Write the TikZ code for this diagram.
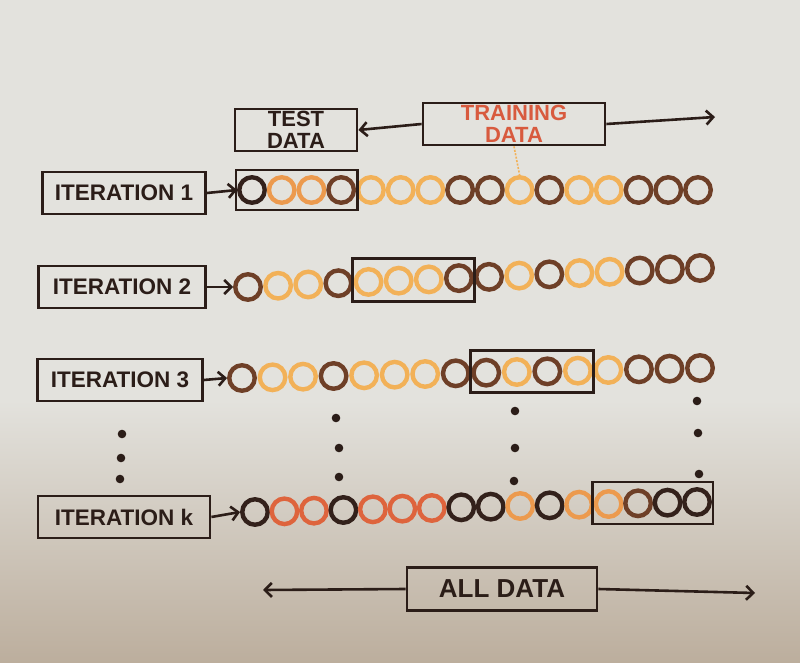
\documentclass[tikz,border=0pt]{standalone}
\usepackage{fontspec}
\setmainfont{Liberation Sans}
\usetikzlibrary{positioning,fit,calc,arrows.meta}

\definecolor{ink}{HTML}{2B1D18}
\definecolor{beadK}{HTML}{33211B}
\definecolor{beadD}{HTML}{6E3F27}
\definecolor{beadL}{HTML}{F2B158}
\definecolor{beadO}{HTML}{EC9A4E}
\definecolor{beadR}{HTML}{DE643D}
\definecolor{trainred}{HTML}{D85A3E}
\definecolor{bgtop}{HTML}{E3E2DD}
\definecolor{bgbot}{HTML}{BCAE9D}

\tikzset{
  bead/.style={circle, draw=#1, line width=4.4pt, minimum size=25.5pt, inner sep=0pt},
  labelbox/.style={draw=ink, line width=2.8pt, minimum height=42pt, inner sep=2pt, text=ink},
  testbox/.style={draw=ink, line width=2.8pt, inner xsep=1pt, inner ysep=5pt},
  flow/.style={draw=ink, line width=2.6pt, -{Straight Barb[length=7pt,width=14pt]}},
}

% one row of beads: name, x first, x last, y first, y last, colours
\newcommand{\beadrow}[6]{%
  \foreach \col [count=\i] in {#6} {
    \node[bead=\col] (c#1-\i) at ({#2+(#3-#2)*(\i-1)/15}, {#4+(#5-#4)*(\i-1)/15}) {};
  }}

\begin{document}
\begin{tikzpicture}[x=1pt, y=-1pt]
    \useasboundingbox (0,0) rectangle (800,663);
    \fill[bgtop] (0,0) rectangle (800,663);
    \shade[top color=bgtop, bottom color=bgbot] (0,400) rectangle (800,663);

    % top labels
    \node [labelbox, minimum width=122pt, align=center, font=\bfseries\fontsize{22}{22}\selectfont] (test) at (296,130) {TEST\\DATA};
    \node [labelbox, minimum width=182pt, align=center, text=trainred, font=\bfseries\fontsize{22}{22}\selectfont] (train) at (514,124) {TRAINING\\DATA};
    \coordinate (trainend) at (715,117);

    % iterations
    \node [labelbox, minimum width=163pt, font=\bfseries\fontsize{22.5}{23}\selectfont] (it1) at (124,193) {ITERATION 1};
    \node [labelbox, minimum width=167pt, font=\bfseries\fontsize{22.5}{23}\selectfont] (it2) at (122,287) {ITERATION 2};
    \node [labelbox, minimum width=165pt, font=\bfseries\fontsize{22.5}{23}\selectfont] (it3) at (120,380) {ITERATION 3};
    \node [labelbox, minimum width=172pt, font=\bfseries\fontsize{22.5}{23}\selectfont] (itk) at (124,517) {ITERATION k};

    \beadrow{1}{252}{698}{190}{190}{beadK,beadO,beadO,beadD,beadL,beadL,beadL,beadD,beadD,beadL,beadD,beadL,beadL,beadD,beadD,beadD}
    \beadrow{2}{248}{700}{287}{268}{beadD,beadL,beadL,beadD,beadL,beadL,beadL,beadD,beadD,beadL,beadD,beadL,beadL,beadD,beadD,beadD}
    \beadrow{3}{242}{700}{378}{368}{beadD,beadL,beadL,beadD,beadL,beadL,beadL,beadD,beadD,beadL,beadD,beadL,beadL,beadD,beadD,beadD}
    \beadrow{k}{255}{697}{512}{502}{beadK,beadR,beadR,beadK,beadR,beadR,beadR,beadK,beadK,beadO,beadK,beadO,beadO,beadD,beadK,beadK}

    % test folds
    \node [testbox, fit=(c1-1)(c1-4)] (fold1) {};
    \node [testbox, fit=(c2-5)(c2-8)] (fold2) {};
    \node [testbox, fit=(c3-9)(c3-12)] (fold3) {};
    \node [testbox, fit=(ck-13)(ck-16)] (foldk) {};

    % all data
    \node [labelbox, minimum width=190pt, minimum height=43pt, font=\bfseries\fontsize{26}{28}\selectfont] (all) at (502,589) {ALL DATA};
    \coordinate (allleft) at (263,590);
    \coordinate (allright) at (755,593);

    \path
        (train.west) edge[flow] (test.east)
        (train.east) edge[flow] (trainend)
        (it1.east) edge[flow] (c1-1.west)
        (it2.east) edge[flow] (c2-1.west)
        (it3.east) edge[flow] (c3-1.west)
        (itk.east) edge[flow] (ck-1.west)
        (all.west) edge[flow] (allleft)
        (all.east) edge[flow] (allright);

    \draw[beadL, line width=1.6pt, dash pattern=on 2pt off 1.5pt] (train.south) -- (c1-10.north);

    % dots
    \foreach \x/\y in {122/434, 121/458, 120/479, 336/418, 339/448, 339/477,
                       515/411, 515/448, 514/481, 697/401, 698/433, 699/474}
        \fill[ink] (\x,\y) circle (4.3);
\end{tikzpicture}
\end{document}
